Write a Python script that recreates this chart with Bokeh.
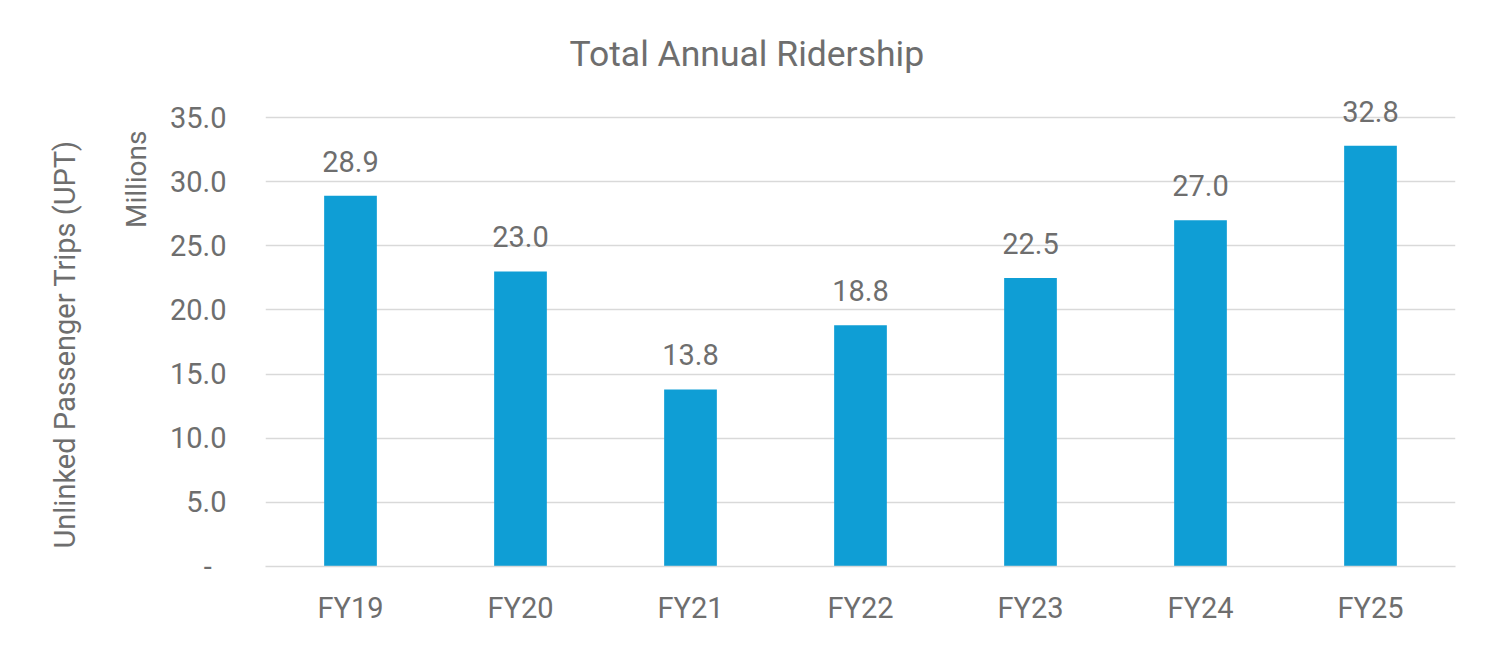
from bokeh.plotting import figure
from bokeh.models import (ColumnDataSource, FixedTicker, NumeralTickFormatter,
                          LabelSet, Range1d, Title)
from bokeh.core.properties import value
from bokeh.embed import file_html
from bokeh.resources import INLINE

categories = ["FY19", "FY20", "FY21", "FY22", "FY23", "FY24", "FY25"]
ridership = [28.9, 23.0, 13.8, 18.8, 22.5, 27.0, 32.8]
y_ticks = [0, 5, 10, 15, 20, 25, 30, 35]
title_text = "Total Annual Ridership"
y_label = "Unlinked Passenger Trips (UPT)"
unit_label = "Millions"

FONT = "Roboto"
TXT = "#6E6E6E"
BAR = "#0F9ED5"
GRID = "#D9D9D9"

src = ColumnDataSource(dict(cat=categories, val=ridership,
                            lab=[f"{v:.1f}" for v in ridership]))

p = figure(x_range=categories, y_range=Range1d(0, 37.5),
           width=1475, height=633, output_backend="svg", toolbar_location=None,
           min_border_left=265, min_border_right=20,
           min_border_top=85, min_border_bottom=67)
p.outline_line_color = None
p.background_fill_color = "white"
p.border_fill_color = "white"

p.vbar(x="cat", top="val", width=0.31, source=src, fill_color=BAR, line_color=None)

# y axis
ya = p.yaxis[0]
ya.ticker = FixedTicker(ticks=y_ticks)
ya.formatter = NumeralTickFormatter(format="0.0")
ya.major_label_overrides = {0: "-\u2002"}
ya.major_tick_line_color = None
ya.minor_tick_line_color = None
ya.axis_line_color = None
ya.major_tick_out = 0
ya.major_label_standoff = 39
ya.major_label_text_font = FONT
ya.major_label_text_font_size = "29px"
ya.major_label_text_color = TXT

# x axis
xa = p.xaxis[0]
xa.major_tick_line_color = None
xa.minor_tick_line_color = None
xa.axis_line_color = GRID
xa.axis_line_width = 1.5
xa.major_tick_out = 0
xa.major_label_standoff = 24
xa.major_label_text_font = FONT
xa.major_label_text_font_size = "29px"
xa.major_label_text_color = TXT

p.xgrid.grid_line_color = None
p.ygrid.ticker = FixedTicker(ticks=y_ticks)
p.ygrid.grid_line_color = GRID
p.ygrid.grid_line_width = 1.5

labels = LabelSet(x="cat", y="val", text="lab", source=src, text_align="center",
                  text_baseline="alphabetic", y_offset=24, text_font=value(FONT),
                  text_font_size="29px", text_color=TXT)
p.add_layout(labels)

# chart title
p.title.text = title_text
p.title.align = "left"
p.title.offset = 304
p.title.text_font = FONT
p.title.text_font_size = "35.5px"
p.title.text_font_style = "normal"
p.title.text_color = TXT
p.title.standoff = 22

# unit label and axis title on the left side
p.add_layout(Title(text=unit_label, align="right", offset=45, text_font=FONT,
                   text_font_size="28px", text_font_style="normal",
                   text_color=TXT, standoff=27), "left")
p.add_layout(Title(text=y_label, align="left", offset=18, text_font=FONT,
                   text_font_size="29px", text_font_style="normal",
                   text_color=TXT, standoff=46), "left")

open("out.html", "w").write(file_html(p, INLINE))
